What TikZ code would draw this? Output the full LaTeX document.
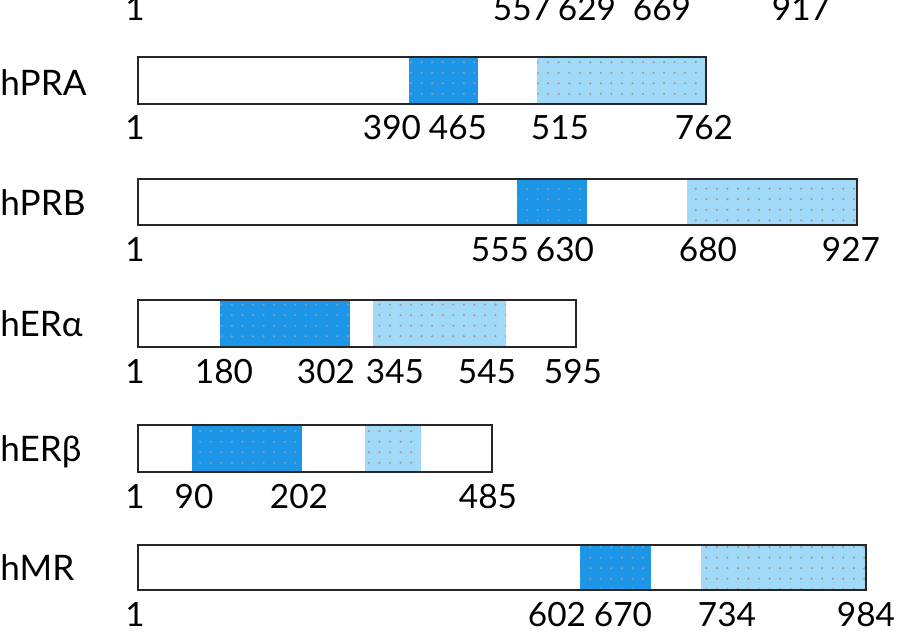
\documentclass[tikz,border=0pt]{standalone}
\usepackage{fontspec}
\setmainfont{Lato}
\usetikzlibrary{patterns.meta}
\definecolor{dbdblue}{RGB}{30,150,232}
\definecolor{lbdblue}{RGB}{160,218,248}

\begin{document}
\begin{tikzpicture}[x=0.02cm, y=-0.02cm,
    font=\fontsize{19}{22}\selectfont,
    num/.style={inner sep=0pt, anchor=base},
    rname/.style={inner sep=0pt, anchor=base west, font=\fontsize{20}{22}\selectfont},
    protein/.style={draw=black!85, line width=1.7pt},
    dbd/.style={fill=dbdblue, postaction={pattern={Dots[distance=6pt,radius=0.7pt]}, pattern color=gray!60!dbdblue!80!white}},
    lbd/.style={fill=lbdblue, postaction={pattern={Dots[distance=6pt,radius=0.7pt]}, pattern color=gray!75}}]
    \clip (0,0) rectangle (897,642);
    \useasboundingbox (0,0) rectangle (897,642);

    % Row cut off at the top
    \node[num] (top1) at (135,21) {1};
    \node[num] (top557) at (522,21) {557};
    \node[num] (top629) at (587,21) {629};
    \node[num] (top669) at (662,21) {669};
    \node[num] (top917) at (801,21) {917};

    % hPRA
    \node[rname] (hpra) at (0,96) {hPRA};
    \fill[dbd] (409,57) rectangle (478,104);
    \fill[lbd] (537,57) rectangle (706,104);
    \draw[protein] (138,57) rectangle (706,104);
    \node[num] (hpra1) at (135,140) {1};
    \node[num] (hpra390) at (392,140) {390};
    \node[num] (hpra465) at (458,140) {465};
    \node[num] (hpra515) at (560,140) {515};
    \node[num] (hpra762) at (704,140) {762};

    % hPRB
    \node[rname] (hprb) at (0,215) {hPRB};
    \fill[dbd] (517,179) rectangle (587,225);
    \fill[lbd] (687,179) rectangle (857,225);
    \draw[protein] (138,179) rectangle (857,225);
    \node[num] (hprb1) at (135,261) {1};
    \node[num] (hprb555) at (500,261) {555};
    \node[num] (hprb630) at (565,261) {630};
    \node[num] (hprb680) at (708,261) {680};
    \node[num] (hprb927) at (851,261) {927};

    % hER alpha
    \node[rname] (hera) at (0,337) {hERα};
    \fill[dbd] (220,300) rectangle (350,347);
    \fill[lbd] (373,300) rectangle (506,347);
    \draw[protein] (138,300) rectangle (576,347);
    \node[num] (hera1) at (135,383) {1};
    \node[num] (hera180) at (224,383) {180};
    \node[num] (hera302) at (326,383) {302};
    \node[num] (hera345) at (395,383) {345};
    \node[num] (hera545) at (487,383) {545};
    \node[num] (hera595) at (573,383) {595};

    % hER beta
    \node[rname] (herb) at (0,461) {hERβ};
    \fill[dbd] (192,425) rectangle (302,472);
    \fill[lbd] (365,425) rectangle (421,472);
    \draw[protein] (138,425) rectangle (492,472);
    \node[num] (herb1) at (135,508) {1};
    \node[num] (herb90) at (194,508) {90};
    \node[num] (herb202) at (299,508) {202};
    \node[num] (herb485) at (488,508) {485};

    % hMR
    \node[rname] (hmr) at (0,580) {hMR};
    \fill[dbd] (580,545) rectangle (651,590);
    \fill[lbd] (701,545) rectangle (866,590);
    \draw[protein] (138,545) rectangle (866,590);
    \node[num] (hmr1) at (135,626) {1};
    \node[num] (hmr602) at (557,626) {602};
    \node[num] (hmr670) at (623,626) {670};
    \node[num] (hmr734) at (727,626) {734};
    \node[num] (hmr984) at (866,626) {984};
\end{tikzpicture}
\end{document}
